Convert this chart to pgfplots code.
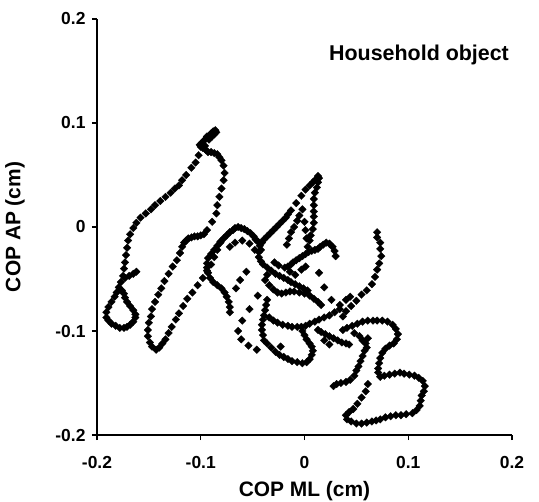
\documentclass[border=0pt]{standalone}
\usepackage{fontspec}
\setmainfont{Liberation Sans}
\usepackage{pgfplots}
\pgfplotsset{compat=1.18}
\begin{document}
\begin{tikzpicture}
\useasboundingbox (-97bp,-67bp) rectangle (442bp,435bp);
\begin{axis}[
  at={(0,0)}, anchor=south west,
  scale only axis, width=415bp, height=416bp,
  xmin=-0.2, xmax=0.2, ymin=-0.2, ymax=0.2,
  axis x line*=bottom, axis y line*=left,
  axis line style={-, line width=1.2pt},
  xtick={-0.2,-0.1,0,0.1,0.2}, ytick={-0.2,-0.1,0,0.1,0.2},
  xticklabels={-0.2,-0.1,0,0.1,0.2}, yticklabels={-0.2,-0.1,0,0.1,0.2},
  tick align=outside, major tick length=5bp,
  tick style={line width=1.2pt, black},
  ticklabel style={font=\bfseries\fontsize{17.5}{19}\selectfont},
  xticklabel style={yshift=-13bp},
  yticklabel style={xshift=-3bp},
  xlabel={COP ML (cm)}, ylabel={COP AP (cm)},
  label style={font=\bfseries\fontsize{21}{23}\selectfont},
  xlabel style={at={(axis description cs:0.5,0)}, anchor=center, yshift=-56bp},
  ylabel style={at={(axis description cs:0,0.5)}, anchor=center, rotate=0, yshift=82bp},
  clip=false,
]
\addplot[only marks, mark=square*, mark size=2.7pt, mark options={rotate=45, fill=black, draw=black, line width=0.3pt}] table {
x y
-0.101 0.079
-0.099 0.081
-0.097 0.083
-0.095 0.085
-0.094 0.087
-0.092 0.088
-0.090 0.090
-0.088 0.092
-0.086 0.093
-0.085 0.091
-0.087 0.089
-0.089 0.087
-0.092 0.084
-0.096 0.078
-0.100 0.077
-0.098 0.076
-0.095 0.074
-0.093 0.072
-0.090 0.072
-0.087 0.071
-0.084 0.070
-0.082 0.067
-0.080 0.064
-0.078 0.059
-0.077 0.052
-0.078 0.045
-0.080 0.037
-0.082 0.029
-0.084 0.021
-0.085 0.013
-0.089 0.005
-0.094 -0.003
-0.097 -0.007
-0.102 0.069
-0.105 0.062
-0.109 0.057
-0.114 0.050
-0.118 0.045
-0.121 0.040
-0.125 0.037
-0.129 0.033
-0.134 0.029
-0.139 0.025
-0.144 0.021
-0.148 0.017
-0.153 0.013
-0.158 0.009
-0.162 0.004
-0.165 -0.001
-0.168 -0.007
-0.170 -0.013
-0.171 -0.020
-0.172 -0.027
-0.173 -0.034
-0.174 -0.040
-0.175 -0.047
-0.177 -0.053
-0.173 -0.049
-0.169 -0.047
-0.165 -0.045
-0.162 -0.043
-0.179 -0.058
-0.181 -0.063
-0.183 -0.067
-0.186 -0.072
-0.189 -0.077
-0.191 -0.082
-0.191 -0.087
-0.189 -0.090
-0.186 -0.093
-0.182 -0.095
-0.178 -0.097
-0.174 -0.097
-0.171 -0.096
-0.168 -0.094
-0.165 -0.091
-0.163 -0.087
-0.163 -0.084
-0.165 -0.080
-0.168 -0.076
-0.171 -0.072
-0.173 -0.068
-0.174 -0.064
-0.176 -0.061
-0.100 -0.008
-0.103 -0.009
-0.106 -0.009
-0.109 -0.010
-0.112 -0.011
-0.114 -0.013
-0.116 -0.015
-0.118 -0.019
-0.120 -0.025
-0.123 -0.032
-0.127 -0.038
-0.131 -0.045
-0.135 -0.052
-0.138 -0.059
-0.141 -0.065
-0.144 -0.072
-0.147 -0.079
-0.148 -0.086
-0.150 -0.092
-0.151 -0.099
-0.151 -0.105
-0.149 -0.111
-0.147 -0.115
-0.143 -0.118
-0.140 -0.116
-0.137 -0.112
-0.134 -0.108
-0.131 -0.102
-0.128 -0.096
-0.124 -0.089
-0.121 -0.083
-0.117 -0.076
-0.113 -0.069
-0.108 -0.063
-0.103 -0.056
-0.098 -0.049
-0.094 -0.042
-0.090 -0.036
-0.087 -0.029
-0.084 -0.022
-0.081 -0.015
-0.072 -0.082
-0.072 -0.077
-0.073 -0.072
-0.075 -0.067
-0.077 -0.063
-0.080 -0.059
-0.084 -0.056
-0.088 -0.053
-0.091 -0.049
-0.093 -0.044
-0.094 -0.039
-0.094 -0.035
-0.093 -0.030
-0.090 -0.026
-0.087 -0.022
-0.084 -0.018
-0.081 -0.014
-0.078 -0.011
-0.075 -0.008
-0.072 -0.005
-0.069 -0.003
-0.067 -0.001
-0.064 0.000
-0.061 -0.001
-0.058 -0.002
-0.055 -0.004
-0.052 -0.006
-0.049 -0.009
-0.047 -0.012
-0.045 -0.014
-0.043 -0.018
-0.042 -0.022
-0.072 -0.019
-0.067 -0.015
-0.060 -0.013
-0.053 -0.016
-0.048 -0.022
0.013 0.049
0.014 0.047
0.012 0.046
0.010 0.045
0.008 0.043
0.005 0.040
0.001 0.036
-0.003 0.030
-0.008 0.023
-0.013 0.016
-0.016 0.012
-0.018 0.009
-0.021 0.006
-0.024 0.003
-0.027 0.000
-0.030 -0.003
-0.033 -0.006
-0.036 -0.009
-0.039 -0.012
-0.041 -0.015
-0.044 -0.024
-0.044 -0.029
-0.042 -0.033
-0.040 -0.036
0.013 0.043
0.012 0.038
0.010 0.033
0.009 0.027
0.009 0.021
0.009 0.015
0.009 0.010
0.009 0.004
0.008 -0.002
0.006 -0.008
0.005 -0.013
0.003 -0.019
-0.002 0.017
-0.005 0.011
-0.007 0.006
-0.010 0.000
-0.013 -0.005
-0.015 -0.011
-0.017 -0.017
0.000 0.005
0.001 -0.003
0.002 -0.011
0.030 -0.028
0.029 -0.023
0.027 -0.019
0.024 -0.016
0.021 -0.015
0.018 -0.017
0.015 -0.019
0.013 -0.021
0.010 -0.022
0.007 -0.023
0.004 -0.024
0.001 -0.026
-0.002 -0.028
-0.005 -0.030
-0.008 -0.032
-0.011 -0.034
-0.013 -0.036
-0.016 -0.038
-0.019 -0.039
-0.036 -0.039
-0.032 -0.042
-0.028 -0.045
-0.024 -0.047
-0.020 -0.049
-0.016 -0.051
-0.013 -0.053
-0.009 -0.055
-0.005 -0.057
-0.001 -0.059
0.003 -0.061
-0.029 -0.034
-0.025 -0.037
-0.014 -0.043
-0.009 -0.046
-0.003 -0.041
0.001 -0.038
-0.036 -0.046
-0.038 -0.051
-0.034 -0.056
-0.030 -0.060
-0.026 -0.063
-0.022 -0.064
-0.018 -0.063
-0.014 -0.062
-0.010 -0.062
-0.005 -0.063
0.000 -0.064
0.005 -0.066
0.009 -0.069
0.013 -0.072
0.016 -0.075
0.014 -0.044
0.019 -0.058
0.026 -0.070
0.034 -0.075
0.040 -0.070
0.044 -0.067
0.070 -0.005
0.070 -0.010
0.073 -0.015
0.073 -0.021
0.074 -0.028
0.072 -0.035
0.070 -0.041
0.068 -0.048
0.065 -0.055
0.060 -0.061
0.055 -0.065
0.050 -0.071
0.045 -0.076
0.040 -0.081
0.037 -0.086
-0.056 -0.043
-0.062 -0.051
-0.066 -0.059
-0.045 -0.066
-0.053 -0.079
-0.060 -0.090
-0.064 -0.100
-0.061 -0.108
-0.054 -0.114
-0.046 -0.118
-0.023 -0.115
-0.036 -0.070
-0.037 -0.075
-0.038 -0.080
-0.039 -0.085
-0.040 -0.089
-0.041 -0.094
-0.041 -0.099
-0.040 -0.104
-0.039 -0.109
-0.036 -0.112
-0.032 -0.116
-0.028 -0.120
-0.024 -0.123
-0.020 -0.125
-0.016 -0.127
-0.012 -0.129
-0.007 -0.130
-0.002 -0.131
0.002 -0.130
0.005 -0.127
0.007 -0.123
0.008 -0.119
0.007 -0.115
0.005 -0.112
0.002 -0.108
0.000 -0.104
-0.002 -0.100
-0.034 -0.087
-0.030 -0.090
-0.026 -0.092
-0.021 -0.094
-0.016 -0.095
-0.012 -0.096
-0.007 -0.096
-0.003 -0.096
0.001 -0.095
0.005 -0.093
0.010 -0.091
0.014 -0.089
0.019 -0.087
0.024 -0.085
0.029 -0.082
0.034 -0.079
0.013 -0.099
0.016 -0.101
0.020 -0.103
0.024 -0.105
0.028 -0.107
0.032 -0.109
0.036 -0.111
0.040 -0.112
0.043 -0.113
0.019 -0.109
0.024 -0.113
0.037 -0.099
0.041 -0.097
0.046 -0.095
0.051 -0.093
0.056 -0.091
0.061 -0.090
0.066 -0.090
0.070 -0.090
0.075 -0.090
0.080 -0.091
0.085 -0.094
0.088 -0.098
0.090 -0.103
0.089 -0.108
0.086 -0.112
0.082 -0.114
0.078 -0.117
0.075 -0.121
0.073 -0.126
0.072 -0.131
0.071 -0.136
0.071 -0.140
0.073 -0.144
0.053 -0.105
0.056 -0.109
0.059 -0.112
0.060 -0.116
0.058 -0.119
0.061 -0.107
0.048 -0.102
0.056 -0.124
0.054 -0.129
0.052 -0.134
0.050 -0.138
0.048 -0.143
0.044 -0.147
0.040 -0.149
0.035 -0.150
0.031 -0.151
0.028 -0.153
0.077 -0.143
0.082 -0.142
0.087 -0.141
0.092 -0.140
0.096 -0.141
0.101 -0.142
0.106 -0.143
0.110 -0.145
0.114 -0.148
0.116 -0.153
0.115 -0.158
0.113 -0.162
0.112 -0.167
0.111 -0.172
0.108 -0.176
0.104 -0.179
0.098 -0.180
0.093 -0.181
0.088 -0.181
0.083 -0.182
0.078 -0.183
0.073 -0.185
0.069 -0.186
0.065 -0.187
0.060 -0.188
0.055 -0.189
0.050 -0.189
0.045 -0.187
0.041 -0.185
0.040 -0.181
0.043 -0.178
0.047 -0.175
0.051 -0.170
0.055 -0.164
0.059 -0.158
0.061 -0.151
};
\node[font=\bfseries\fontsize{21.5}{23}\selectfont, anchor=center] at (rel axis cs:0.776,0.913) {Household object};
\end{axis}
\end{tikzpicture}
\end{document}
